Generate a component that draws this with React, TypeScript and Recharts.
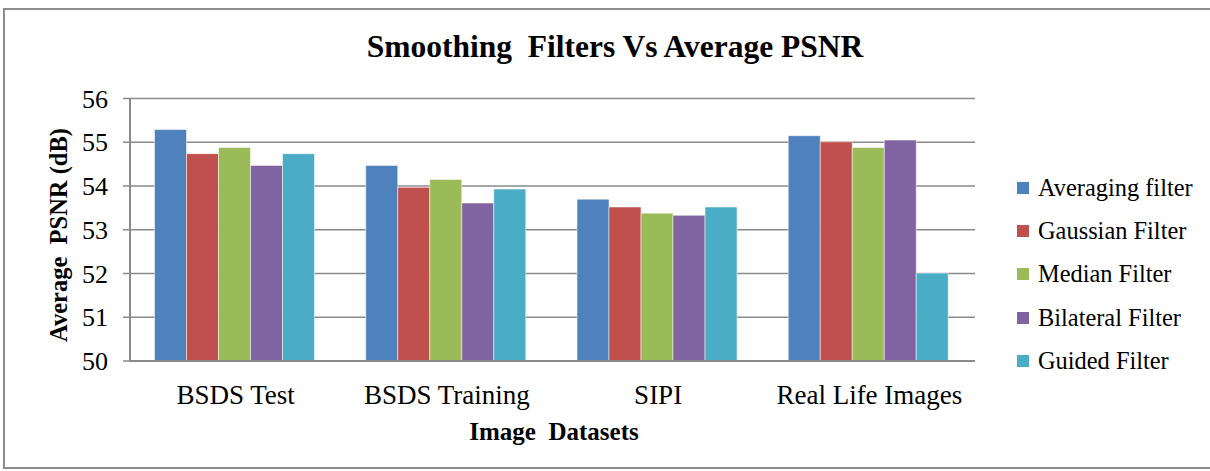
import React from 'react';
import { BarChart, Bar, XAxis, YAxis, CartesianGrid } from 'recharts';

const datasets = ['BSDS Test', 'BSDS Training', 'SIPI', 'Real Life Images'];
const averaging = [55.29, 54.47, 53.7, 55.15];
const gaussian = [54.74, 53.97, 53.52, 55.01];
const median = [54.88, 54.15, 53.38, 54.88];
const bilateral = [54.47, 53.61, 53.33, 55.05];
const guided = [54.74, 53.93, 53.52, 52.01];
const yTicks = [50, 51, 52, 53, 54, 55, 56];

const series = [
  { key: 'averaging', name: 'Averaging filter', color: '#4F81BD', values: averaging },
  { key: 'gaussian', name: 'Gaussian Filter', color: '#C0504D', values: gaussian },
  { key: 'median', name: 'Median Filter', color: '#9BBB59', values: median },
  { key: 'bilateral', name: 'Bilateral Filter', color: '#8064A2', values: bilateral },
  { key: 'guided', name: 'Guided Filter', color: '#4BACC6', values: guided },
];

const data = datasets.map((name, i) => {
  const row: Record<string, string | number> = { name };
  series.forEach((s) => {
    row[s.key] = s.values[i];
  });
  return row;
});

const font = '"Liberation Serif", serif';
const grid = '#8a8a8a';

export default function App() {
  return (
    <div style={{ position: 'fixed', left: 0, top: 0, width: 1210, height: 471, background: '#fff', fontFamily: font, color: '#000' }}>
      <div
        style={{
          position: 'absolute',
          left: 3,
          top: 8,
          width: 1215,
          height: 457,
          border: '2px solid #8c8c8c',
        }}
      />
      {/* title */}
      <div
        style={{
          position: 'absolute',
          left: 0,
          width: 1230,
          top: 29,
          textAlign: 'center',
          fontWeight: 'bold',
          fontSize: 31.5,
          whiteSpace: 'pre',
        }}
      >
        {'Smoothing  Filters Vs Average PSNR'}
      </div>
      <BarChart
        width={1210}
        height={471}
        data={data}
        margin={{ top: 98.5, right: 235, bottom: 80, left: 0 }}
        barGap={0}
        barCategoryGap="11.6%"
        style={{ position: 'absolute', left: 0, top: 0 }}
      >
        <CartesianGrid vertical={false} stroke={grid} strokeWidth={1.5} />
        <XAxis
          dataKey="name"
          height={30}
          axisLine={{ stroke: grid, strokeWidth: 2 }}
          tickLine={false}
          tickSize={0}
          tickMargin={24}
          tick={{ fill: '#000', fontSize: 27, fontFamily: font }}
          interval={0}
        />
        <YAxis
          width={130}
          domain={[50, 56]}
          ticks={yTicks}
          interval={0}
          allowDataOverflow
          axisLine={{ stroke: grid, strokeWidth: 2 }}
          tickLine={{ stroke: grid, strokeWidth: 1.5 }}
          tickSize={7}
          tickMargin={15}
          tick={{ fill: '#000', fontSize: 26, fontFamily: font }}
        />
        {series.map((s) => (
          <Bar
            key={s.key}
            dataKey={s.key}
            name={s.name}
            fill={s.color}
            stroke="#ffffff"
            strokeOpacity={0.5}
            strokeWidth={1}
            isAnimationActive={false}
          />
        ))}
      </BarChart>
      {/* y axis title */}
      <div
        style={{
          position: 'absolute',
          left: 59,
          top: 235,
          transform: 'translate(-50%, -50%) rotate(-90deg)',
          fontWeight: 'bold',
          fontSize: 24.5,
          whiteSpace: 'pre',
          lineHeight: 1,
        }}
      >
        {'Average  PSNR (dB)'}
      </div>
      {/* x axis title */}
      <div
        style={{
          position: 'absolute',
          left: 554,
          top: 431,
          transform: 'translate(-50%, -50%)',
          fontWeight: 'bold',
          fontSize: 25,
          whiteSpace: 'pre',
          lineHeight: 1,
        }}
      >
        {'Image  Datasets'}
      </div>
      {/* legend */}
      <div style={{ position: 'absolute', left: 1017, top: 166.5, fontSize: 24.4 }}>
        {series.map((s) => (
          <div key={s.key} style={{ display: 'flex', alignItems: 'center', height: 43.2 }}>
            <span style={{ width: 12, height: 12, background: s.color, marginRight: 9, display: 'inline-block' }} />
            <span style={{ whiteSpace: 'pre' }}>{s.name}</span>
          </div>
        ))}
      </div>
    </div>
  );
}
